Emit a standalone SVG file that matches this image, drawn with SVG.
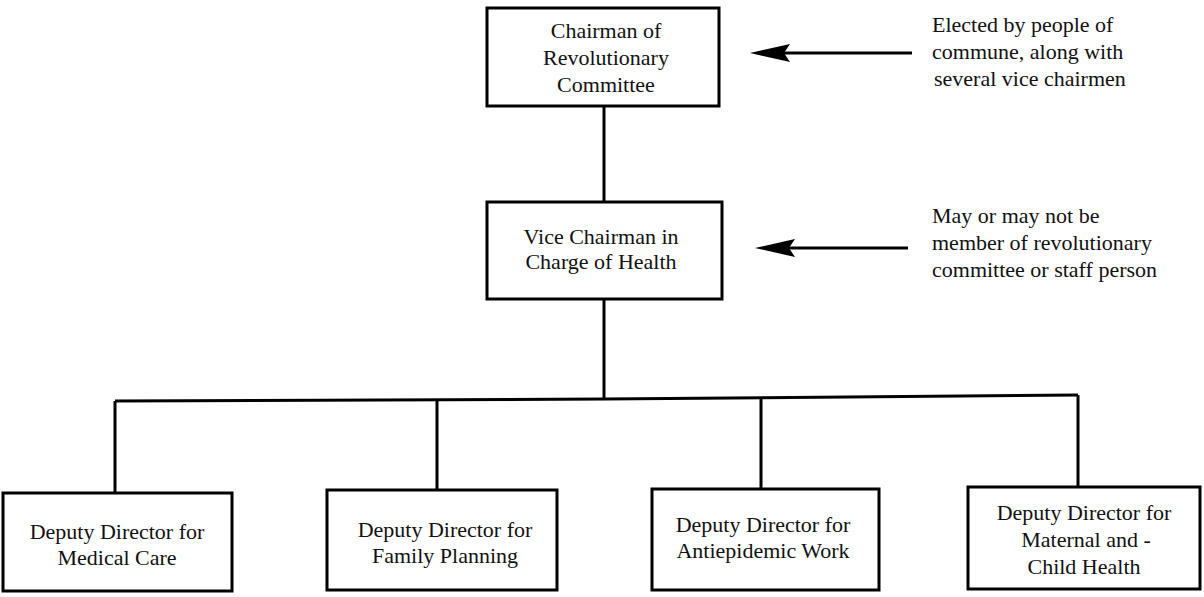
<svg xmlns="http://www.w3.org/2000/svg" width="1204" height="597" viewBox="0 0 1204 597">
  <style>
    .box { fill: #ffffff; stroke: #000000; stroke-width: 3; }
    .wire { fill: none; stroke: #000000; stroke-width: 3; }
    .lbl { font-family: "Liberation Serif", "Times New Roman", serif; font-size: 22px; fill: #111111; text-anchor: middle; }
    .note { font-family: "Liberation Serif", "Times New Roman", serif; font-size: 22px; fill: #111111; text-anchor: start; }
  </style>
  <defs>
    <marker id="arrow" markerUnits="userSpaceOnUse" markerWidth="44" markerHeight="22" viewBox="0 -11 44 22" refX="22" refY="0" orient="auto">
      <path d="M42,0 L2,-9 L8,0 L2,9 Z" fill="#000000"/>
    </marker>
  </defs>
  <rect x="0" y="0" width="1204" height="597" fill="#ffffff"/>

  <g id="connectors">
    <line class="wire" x1="604" y1="106" x2="604" y2="202"/>
    <line class="wire" x1="604" y1="299" x2="604" y2="399"/>
    <polyline class="wire" points="115,401 604,399 1078,395"/>
    <line class="wire" x1="115" y1="401" x2="115" y2="493"/>
    <line class="wire" x1="437" y1="399" x2="437" y2="490"/>
    <line class="wire" x1="761" y1="398" x2="761" y2="489"/>
    <line class="wire" x1="1078" y1="395" x2="1078" y2="487"/>
    <line class="wire" x1="912" y1="53" x2="770" y2="53" marker-end="url(#arrow)"/>
    <line class="wire" x1="908" y1="248" x2="775" y2="248" marker-end="url(#arrow)"/>
  </g>

  <g id="chairman">
    <rect class="box" x="487" y="8" width="232" height="98"/>
    <text class="lbl" x="606" y="38">Chairman of</text>
    <text class="lbl" x="606" y="65">Revolutionary</text>
    <text class="lbl" x="606" y="92">Committee</text>
  </g>

  <g id="vice-chairman">
    <rect class="box" x="487" y="202" width="235" height="97"/>
    <text class="lbl" x="601" y="244">Vice Chairman in</text>
    <text class="lbl" x="601" y="269">Charge of Health</text>
  </g>

  <g id="note-elected">
    <text class="note" x="932" y="32">Elected by people of</text>
    <text class="note" x="932" y="59">commune, along with</text>
    <text class="note" x="934" y="86">several vice chairmen</text>
  </g>

  <g id="note-member">
    <text class="note" x="932" y="223">May or may not be</text>
    <text class="note" x="932" y="250">member of revolutionary</text>
    <text class="note" x="932" y="277">committee or staff person</text>
  </g>

  <g id="medical-care">
    <rect class="box" x="3" y="493" width="229" height="98"/>
    <text class="lbl" x="117" y="539">Deputy Director for</text>
    <text class="lbl" x="117" y="565">Medical Care</text>
  </g>

  <g id="family-planning">
    <rect class="box" x="327" y="490" width="230" height="100"/>
    <text class="lbl" x="445" y="537">Deputy Director for</text>
    <text class="lbl" x="445" y="563">Family Planning</text>
  </g>

  <g id="antiepidemic">
    <rect class="box" x="652" y="489" width="227" height="101"/>
    <text class="lbl" x="763" y="532">Deputy Director for</text>
    <text class="lbl" x="763" y="558">Antiepidemic Work</text>
  </g>

  <g id="maternal-child">
    <rect class="box" x="968" y="487" width="232" height="102"/>
    <text class="lbl" x="1084" y="520">Deputy Director for</text>
    <text class="lbl" x="1086" y="547">Maternal and -</text>
    <text class="lbl" x="1084" y="574">Child Health</text>
  </g>
</svg>
